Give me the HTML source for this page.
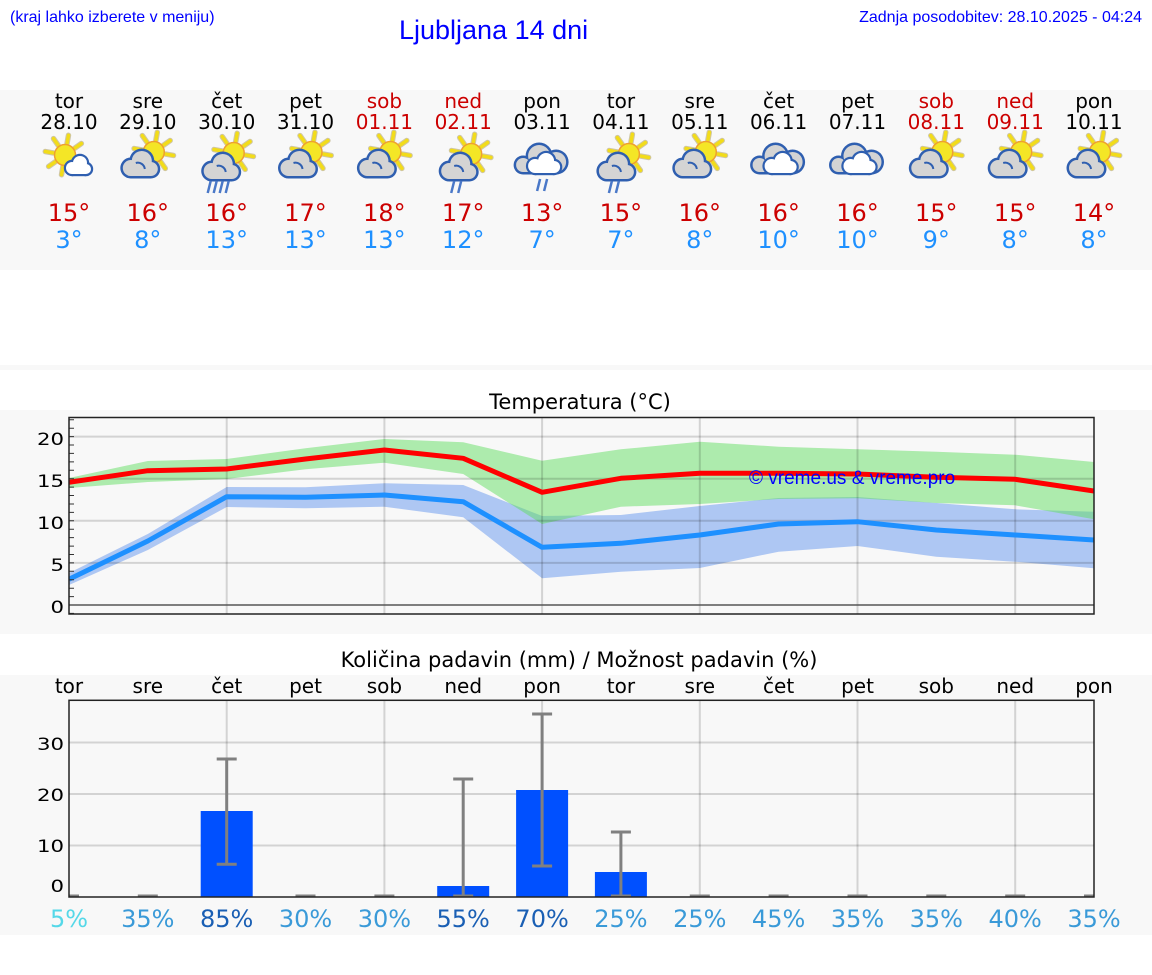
<!DOCTYPE html>
<html><head><meta charset="utf-8"><style>
html,body{margin:0;padding:0;background:#fff;}
svg{display:block;}
.dj{font-family:"DejaVu Sans","Liberation Sans",sans-serif;}
.lb{font-family:"Liberation Sans",Arial,sans-serif;}
</style></head><body>
<svg width="1152" height="975" viewBox="0 0 1152 975" xmlns="http://www.w3.org/2000/svg">
<defs>
  <g id="sun">
    <g stroke="#cfc6a6" stroke-width="5.5" stroke-linecap="round">
      <line x1="0" y1="-12" x2="0" y2="-20" transform="rotate(10)"/>
      <line x1="0" y1="-12" x2="0" y2="-20" transform="rotate(55)"/>
      <line x1="0" y1="-12" x2="0" y2="-20" transform="rotate(100)"/>
      <line x1="0" y1="-12" x2="0" y2="-20" transform="rotate(145)"/>
      <line x1="0" y1="-12" x2="0" y2="-20" transform="rotate(190)"/>
      <line x1="0" y1="-12" x2="0" y2="-20" transform="rotate(235)"/>
      <line x1="0" y1="-12" x2="0" y2="-20" transform="rotate(280)"/>
      <line x1="0" y1="-12" x2="0" y2="-20" transform="rotate(325)"/>
    </g>
    <g stroke="#f2dc1a" stroke-width="3.5" stroke-linecap="round">
      <line x1="0" y1="-12" x2="0" y2="-20" transform="rotate(10)"/>
      <line x1="0" y1="-12" x2="0" y2="-20" transform="rotate(55)"/>
      <line x1="0" y1="-12" x2="0" y2="-20" transform="rotate(100)"/>
      <line x1="0" y1="-12" x2="0" y2="-20" transform="rotate(145)"/>
      <line x1="0" y1="-12" x2="0" y2="-20" transform="rotate(190)"/>
      <line x1="0" y1="-12" x2="0" y2="-20" transform="rotate(235)"/>
      <line x1="0" y1="-12" x2="0" y2="-20" transform="rotate(280)"/>
      <line x1="0" y1="-12" x2="0" y2="-20" transform="rotate(325)"/>
    </g>
    <circle r="10.5" fill="#f4e626" stroke="#eea030" stroke-width="1.5"/>
  </g>
  <g id="gcloud">
    <g fill="#2f5fb0">
      <circle cx="-17" cy="168" r="10.5"/><circle cx="-6" cy="161" r="12.5"/><circle cx="3" cy="169" r="9.5"/>
      <rect x="-17" y="166" width="20" height="12.5"/>
    </g>
    <g fill="#d4d4d4">
      <circle cx="-17" cy="168" r="8"/><circle cx="-6" cy="161" r="10"/><circle cx="3" cy="169" r="7"/>
      <rect x="-17" y="166" width="20" height="10"/>
    </g>
    <path d="M-12 163 a7 7 0 0 1 9 6" fill="none" stroke="#2f5fb0" stroke-width="2"/>
  </g>
  <g id="wcloud">
    <g fill="#2f5fb0">
      <circle cx="3" cy="168" r="8.2"/><circle cx="11" cy="163" r="9.2"/><circle cx="17" cy="169" r="7.2"/>
      <rect x="3" y="166" width="14" height="10.2"/>
    </g>
    <g fill="#ffffff">
      <circle cx="3" cy="168" r="6"/><circle cx="11" cy="163" r="7"/><circle cx="17" cy="169" r="5"/>
      <rect x="3" y="166" width="14" height="8"/>
    </g>
  </g>
  <g id="ocloud">
    <g fill="#2f5fb0">
      <circle cx="-19" cy="165" r="9.5"/><circle cx="-3" cy="156" r="13.5"/><circle cx="14" cy="162" r="12.5"/>
      <rect x="-19" y="160" width="33" height="14.5"/>
    </g>
    <g fill="#d4d4d4">
      <circle cx="-19" cy="165" r="7"/><circle cx="-3" cy="156" r="11"/><circle cx="14" cy="162" r="10"/>
      <rect x="-19" y="160" width="33" height="12"/>
    </g>
    <g fill="#2f5fb0">
      <circle cx="-7" cy="166" r="9.2"/><circle cx="4" cy="161" r="10.2"/><circle cx="12" cy="167" r="8.2"/>
      <rect x="-7" y="164" width="19" height="11.2"/>
    </g>
    <g fill="#ffffff">
      <circle cx="-7" cy="166" r="7"/><circle cx="4" cy="161" r="8"/><circle cx="12" cy="167" r="6"/>
      <rect x="-7" y="164" width="19" height="9"/>
    </g>
  </g>
  <g id="pc">
    <use href="#sun" transform="translate(6,152)"/>
    <use href="#gcloud"/>
  </g>
  <clipPath id="tclip"><rect x="69" y="417.5" width="1025" height="196.5"/></clipPath>
  <clipPath id="pclip"><rect x="69" y="700" width="1025" height="197.5"/></clipPath>
</defs>

<!-- backgrounds -->
<rect x="0" y="90" width="1152" height="180" fill="#f8f8f8"/>
<rect x="0" y="365" width="1152" height="5" fill="#f8f8f8"/>
<rect x="0" y="410" width="1152" height="224" fill="#f8f8f8"/>
<rect x="0" y="675" width="1152" height="260" fill="#f8f8f8"/>

<!-- header texts -->
<text class="lb" x="10" y="22" font-size="16" fill="#0000ff">(kraj lahko izberete v meniju)</text>
<text class="lb" x="399" y="39" font-size="27" fill="#0000ff">Ljubljana 14 dni</text>
<text class="lb" x="1142" y="22" font-size="16" fill="#0000ff" text-anchor="end">Zadnja posodobitev: 28.10.2025 - 04:24</text>

<g class="dj" font-size="20" text-anchor="middle" fill="#000">
  <text x="69" y="108">tor</text><text x="69" y="129">28.10</text>
  <text x="147.8" y="108">sre</text><text x="147.8" y="129">29.10</text>
  <text x="226.7" y="108">čet</text><text x="226.7" y="129">30.10</text>
  <text x="305.5" y="108">pet</text><text x="305.5" y="129">31.10</text>
  <text x="384.4" y="108" fill="#cc0000">sob</text><text x="384.4" y="129" fill="#cc0000">01.11</text>
  <text x="463.2" y="108" fill="#cc0000">ned</text><text x="463.2" y="129" fill="#cc0000">02.11</text>
  <text x="542.1" y="108">pon</text><text x="542.1" y="129">03.11</text>
  <text x="620.9" y="108">tor</text><text x="620.9" y="129">04.11</text>
  <text x="699.8" y="108">sre</text><text x="699.8" y="129">05.11</text>
  <text x="778.6" y="108">čet</text><text x="778.6" y="129">06.11</text>
  <text x="857.5" y="108">pet</text><text x="857.5" y="129">07.11</text>
  <text x="936.3" y="108" fill="#cc0000">sob</text><text x="936.3" y="129" fill="#cc0000">08.11</text>
  <text x="1015.2" y="108" fill="#cc0000">ned</text><text x="1015.2" y="129" fill="#cc0000">09.11</text>
  <text x="1094" y="108">pon</text><text x="1094" y="129">10.11</text>
</g>

<!-- icons -->
<g>
  <g transform="translate(69,0)"><use href="#sun" transform="translate(-4,155)"/><use href="#wcloud"/></g>
  <g transform="translate(147.8,0)"><use href="#pc"/></g>
  <g transform="translate(226.7,0)">
    <use href="#sun" transform="translate(7,153)"/>
    <use href="#gcloud" transform="translate(2,3)"/>
    <g stroke="#4a78c8" stroke-width="2.5"><line x1="-16" y1="181" x2="-19" y2="193"/><line x1="-10" y1="181" x2="-13" y2="193"/><line x1="-4" y1="181" x2="-7" y2="193"/><line x1="2" y1="181" x2="-1" y2="193"/></g>
  </g>
  <g transform="translate(305.5,0)"><use href="#pc"/></g>
  <g transform="translate(384.4,0)"><use href="#pc"/></g>
  <g transform="translate(463.2,0)">
    <use href="#sun" transform="translate(8,154)"/>
    <use href="#gcloud" transform="translate(3,3)"/>
    <g stroke="#4a78c8" stroke-width="2.5"><line x1="-9" y1="181" x2="-12" y2="193"/><line x1="-2" y1="181" x2="-5" y2="193"/></g>
  </g>
  <g transform="translate(542.1,0)">
    <use href="#ocloud"/>
    <g stroke="#4a78c8" stroke-width="2.5"><line x1="-2" y1="179" x2="-5" y2="191"/><line x1="5" y1="179" x2="2" y2="191"/></g>
  </g>
  <g transform="translate(620.9,0)">
    <use href="#sun" transform="translate(8,154)"/>
    <use href="#gcloud" transform="translate(3,3)"/>
    <g stroke="#4a78c8" stroke-width="2.5"><line x1="-9" y1="181" x2="-12" y2="193"/><line x1="-2" y1="181" x2="-5" y2="193"/></g>
  </g>
  <g transform="translate(699.8,0)"><use href="#pc"/></g>
  <g transform="translate(778.6,0)"><use href="#ocloud"/></g>
  <g transform="translate(857.5,0)"><use href="#ocloud"/></g>
  <g transform="translate(936.3,0)"><use href="#pc"/></g>
  <g transform="translate(1015.2,0)"><use href="#pc"/></g>
  <g transform="translate(1094,0)"><use href="#pc"/></g>
</g>

<!-- header temps -->
<g class="dj" font-size="24" text-anchor="middle">
  <g fill="#cc0000">
    <text x="69" y="221">15°</text><text x="147.8" y="221">16°</text><text x="226.7" y="221">16°</text><text x="305.5" y="221">17°</text>
    <text x="384.4" y="221">18°</text><text x="463.2" y="221">17°</text><text x="542.1" y="221">13°</text><text x="620.9" y="221">15°</text>
    <text x="699.8" y="221">16°</text><text x="778.6" y="221">16°</text><text x="857.5" y="221">16°</text><text x="936.3" y="221">15°</text>
    <text x="1015.2" y="221">15°</text><text x="1094" y="221">14°</text>
  </g>
  <g fill="#1e90ff">
    <text x="69" y="248">3°</text><text x="147.8" y="248">8°</text><text x="226.7" y="248">13°</text><text x="305.5" y="248">13°</text>
    <text x="384.4" y="248">13°</text><text x="463.2" y="248">12°</text><text x="542.1" y="248">7°</text><text x="620.9" y="248">7°</text>
    <text x="699.8" y="248">8°</text><text x="778.6" y="248">10°</text><text x="857.5" y="248">10°</text><text x="936.3" y="248">9°</text>
    <text x="1015.2" y="248">8°</text><text x="1094" y="248">8°</text>
  </g>
</g>

<!-- Temperature chart -->
<text class="dj" x="580" y="409" font-size="21" text-anchor="middle" fill="#000">Temperatura (°C)</text>
<g clip-path="url(#tclip)">
  <polygon fill="rgba(100,149,237,0.5)" points="69,573 147.8,534 226.7,487 305.5,487.3 384.4,483.3 463.2,485 542.1,516 620.9,515 699.8,506 778.6,498 857.5,497 936.3,503 1015.2,509.3 1094,511.7 1094,568.3 1015.2,561.7 936.3,556.7 857.5,546 778.6,551.7 699.8,568 620.9,571.7 542.1,578.3 463.2,517.3 384.4,506.7 305.5,508.3 226.7,507 147.8,550 69,585"/>
  <polygon fill="rgba(98,222,98,0.5)" points="69,478 147.8,461 226.7,459 305.5,448.3 384.4,439 463.2,442.3 542.1,460.7 620.9,449.3 699.8,441.7 778.6,446.7 857.5,449.3 936.3,451.7 1015.2,454.7 1094,462 1094,519.3 1015.2,505.3 936.3,503 857.5,498.3 778.6,499 699.8,504 620.9,506.7 542.1,524 463.2,474 384.4,462.7 305.5,469.3 226.7,479 147.8,482 69,488"/>
  <g stroke="rgba(0,0,0,0.15)" stroke-width="2">
    <line x1="69" y1="562.9" x2="1094" y2="562.9"/>
    <line x1="69" y1="520.8" x2="1094" y2="520.8"/>
    <line x1="69" y1="478.7" x2="1094" y2="478.7"/>
    <line x1="69" y1="436.6" x2="1094" y2="436.6"/>
    <line x1="226.7" y1="417" x2="226.7" y2="614"/>
    <line x1="384.4" y1="417" x2="384.4" y2="614"/>
    <line x1="542.1" y1="417" x2="542.1" y2="614"/>
    <line x1="699.8" y1="417" x2="699.8" y2="614"/>
    <line x1="857.5" y1="417" x2="857.5" y2="614"/>
    <line x1="1015.2" y1="417" x2="1015.2" y2="614"/>
  </g>
  <line x1="69" y1="605" x2="1094" y2="605" stroke="#555" stroke-width="1.5"/>
  <polyline fill="none" stroke="#1e90ff" stroke-width="5" stroke-linejoin="round" points="69,579.3 147.8,541 226.7,496.7 305.5,497.3 384.4,495 463.2,501.7 542.1,547.3 620.9,543.3 699.8,535 778.6,524 857.5,521.7 936.3,530 1015.2,535 1094,540"/>
  <polyline fill="none" stroke="#ff0000" stroke-width="5" stroke-linejoin="round" points="69,482.3 147.8,470.7 226.7,469 305.5,459 384.4,450 463.2,458.3 542.1,492.3 620.9,478.3 699.8,473.3 778.6,473.3 857.5,474 936.3,477.3 1015.2,479.3 1094,491"/>
</g>
<path stroke="#333" stroke-width="1" fill="none" d="M69 613.4h5M69 596.6h5M69 588.2h5M69 579.7h5M69 571.3h5M69 562.9h5M69 554.5h5M69 546.1h5M69 537.6h5M69 529.2h5M69 520.8h5M69 512.4h5M69 504h5M69 495.5h5M69 487.1h5M69 478.7h5M69 470.3h5M69 461.9h5M69 453.4h5M69 445h5M69 436.6h5M69 428.2h5M69 419.8h5"/>
<rect x="69" y="417.5" width="1025" height="196.5" fill="none" stroke="#222" stroke-width="1.5"/>
<g class="dj" font-size="17" text-anchor="end" fill="#000" transform="translate(64,0) scale(1.25,1)">
  <text x="0" y="613">0</text>
  <text x="0" y="571">5</text>
  <text x="0" y="529">10</text>
  <text x="0" y="487">15</text>
  <text x="0" y="445">20</text>
</g>
<text class="lb" x="749" y="484" font-size="19" fill="#0000ff">© vreme.us &amp; vreme.pro</text>

<!-- Precipitation chart -->
<text class="dj" x="579" y="667" font-size="21" text-anchor="middle" fill="#000">Količina padavin (mm) / Možnost padavin (%)</text>
<g class="dj" font-size="20" text-anchor="middle" fill="#000">
  <text x="69" y="693">tor</text><text x="147.8" y="693">sre</text><text x="226.7" y="693">čet</text><text x="305.5" y="693">pet</text>
  <text x="384.4" y="693">sob</text><text x="463.2" y="693">ned</text><text x="542.1" y="693">pon</text><text x="620.9" y="693">tor</text>
  <text x="699.8" y="693">sre</text><text x="778.6" y="693">čet</text><text x="857.5" y="693">pet</text><text x="936.3" y="693">sob</text>
  <text x="1015.2" y="693">ned</text><text x="1094" y="693">pon</text>
</g>
<g clip-path="url(#pclip)">
  <g stroke="rgba(0,0,0,0.15)" stroke-width="2">
    <line x1="69" y1="845.5" x2="1094" y2="845.5"/>
    <line x1="69" y1="794" x2="1094" y2="794"/>
    <line x1="69" y1="742.5" x2="1094" y2="742.5"/>
    <line x1="226.7" y1="700" x2="226.7" y2="897"/>
    <line x1="384.4" y1="700" x2="384.4" y2="897"/>
    <line x1="542.1" y1="700" x2="542.1" y2="897"/>
    <line x1="699.8" y1="700" x2="699.8" y2="897"/>
    <line x1="857.5" y1="700" x2="857.5" y2="897"/>
    <line x1="1015.2" y1="700" x2="1015.2" y2="897"/>
  </g>
  <g fill="#0050ff">
    <rect x="200.7" y="811" width="52" height="86"/>
    <rect x="437.2" y="886" width="52" height="11"/>
    <rect x="516.1" y="790" width="52" height="107"/>
    <rect x="594.9" y="872" width="52" height="25"/>
  </g>
  <g stroke="#808080" stroke-width="3" fill="none">
    <path d="M226.7 759V864.3M216.7 759h20M216.7 864.3h20"/>
    <path d="M463.2 779V897M453.2 779h20M453.2 896h20"/>
    <path d="M542.1 714V866M532.1 714h20M532.1 866h20"/>
    <path d="M620.9 832V897M610.9 832h20M610.9 896h20"/>
    <path d="M59 896h20M137.8 896h20M295.5 896h20M374.4 896h20M689.8 896h20M768.6 896h20M847.5 896h20M926.3 896h20M1005.2 896h20M1084 896h20"/>
  </g>
</g>
<rect x="69" y="700.3" width="1025" height="196.7" fill="none" stroke="#222" stroke-width="1.5"/>
<g class="dj" font-size="17" text-anchor="end" fill="#000" transform="translate(64,0) scale(1.25,1)">
  <text x="0" y="892">0</text>
  <text x="0" y="852">10</text>
  <text x="0" y="801">20</text>
  <text x="0" y="750">30</text>
</g>
<g class="dj" font-size="24" text-anchor="middle">
  <text x="69" y="927" fill="#55d8e8">5%</text>
  <text x="147.8" y="927" fill="#3a9ad8">35%</text>
  <text x="226.7" y="927" fill="#1a5fb4">85%</text>
  <text x="305.5" y="927" fill="#3a9ad8">30%</text>
  <text x="384.4" y="927" fill="#3a9ad8">30%</text>
  <text x="463.2" y="927" fill="#1a5fb4">55%</text>
  <text x="542.1" y="927" fill="#1a5fb4">70%</text>
  <text x="620.9" y="927" fill="#3a9ad8">25%</text>
  <text x="699.8" y="927" fill="#3a9ad8">25%</text>
  <text x="778.6" y="927" fill="#3a9ad8">45%</text>
  <text x="857.5" y="927" fill="#3a9ad8">35%</text>
  <text x="936.3" y="927" fill="#3a9ad8">35%</text>
  <text x="1015.2" y="927" fill="#3a9ad8">40%</text>
  <text x="1094" y="927" fill="#3a9ad8">35%</text>
</g>
</svg>
</body></html>
